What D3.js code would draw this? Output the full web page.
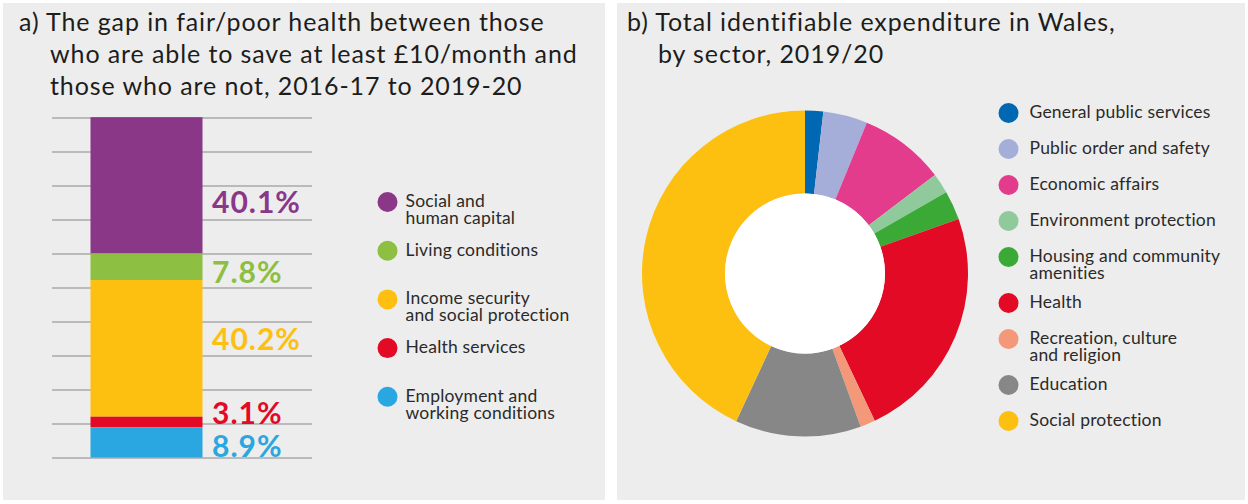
<!DOCTYPE html>
<html>
<head>
<meta charset="utf-8">
<script src="https://cdn.jsdelivr.net/npm/d3@7"></script>
<style>
  body { margin: 0; background: #fff; }
  svg { display: block; font-family: Lato, 'Open Sans', sans-serif; }
</style>
</head>
<body>
<svg id="chart" width="1248" height="504"></svg>
<script>
// a) stacked bar, top segment first
let barCategories = ['Social and human capital', 'Living conditions', 'Income security and social protection', 'Health services', 'Employment and working conditions']
let barLegend = [['Social and', 'human capital'], ['Living conditions'], ['Income security', 'and social protection'], ['Health services'], ['Employment and', 'working conditions']]
let barValues = [40.1, 7.8, 40.2, 3.1, 8.9]
let barColors = ['#8a3788', '#8dbf42', '#fdc010', '#e20a25', '#2aa7e0']
let gridTicks = [0, 10, 20, 30, 40, 50, 60, 70, 80, 90, 100]

// b) donut, clockwise from 12 o'clock
let sectors = ['General public services', 'Public order and safety', 'Economic affairs', 'Environment protection', 'Housing and community amenities', 'Health', 'Recreation, culture and religion', 'Education', 'Social protection']
let sectorLegend = [['General public services'], ['Public order and safety'], ['Economic affairs'], ['Environment protection'], ['Housing and community', 'amenities'], ['Health'], ['Recreation, culture', 'and religion'], ['Education'], ['Social protection']]
let sectorValues = [1.8, 4.4, 8.5, 2.0, 2.9, 23.4, 1.5, 12.5, 43.1]
let sectorColors = ['#0067b2', '#a5aed9', '#e33c8d', '#90ca9c', '#3aa935', '#e20a25', '#f39879', '#878787', '#fdc010']

let svg = d3.select('#chart')

// panels
svg.append('rect').attr('x', 3).attr('y', 3).attr('width', 602).attr('height', 497).attr('fill', '#ededed')
svg.append('rect').attr('x', 617).attr('y', 3).attr('width', 628).attr('height', 497).attr('fill', '#ededed')

function title (x, indent, lines) {
  let t = svg.append('text').attr('font-size', 25).attr('letter-spacing', 0.9).attr('fill', '#1d1d1b')
  lines.forEach(function (l, i) {
    t.append('tspan').attr('x', i === 0 ? x : x + indent).attr('y', 31 + i * 32).text(l)
  })
}
title(19, 31, ['a) The gap in fair/poor health between those', 'who are able to save at least £10/month and', 'those who are not, 2016-17 to 2019-20'])
title(627, 31, ['b) Total identifiable expenditure in Wales,', 'by sector, 2019/20'])

function legend (x, y0, step, extra, gap, items, colors) {
  let y = y0
  items.forEach(function (lines, i) {
    let g = svg.append('g').attr('transform', 'translate(' + x + ',' + y + ')')
    g.append('circle').attr('r', 10).attr('fill', colors[i])
    let t = g.append('text').attr('font-size', 17.5).attr('letter-spacing', 0.2).attr('fill', '#2b2a29')
    lines.forEach(function (l, j) {
      t.append('tspan').attr('x', gap).attr('y', 5 + j * 17).text(l)
    })
    y += step + (lines.length > 1 ? extra : 0)
  })
}

// ---- a) stacked bar
let y = d3.scaleLinear().domain([0, 100]).range([457.5, 117.5])

svg.append('g')
  .attr('transform', 'translate(312,0)')
  .call(d3.axisLeft(y).tickValues(gridTicks).tickSize(260).tickFormat(''))
  .call(function (g) { g.select('.domain').remove() })
  .selectAll('line').attr('stroke', '#a8a8a8').attr('stroke-width', 1.5)

let stacked = []
let acc = 0
for (let i = barValues.length - 1; i >= 0; i--) {
  stacked[i] = { key: barCategories[i], y0: acc, y1: acc + barValues[i], value: barValues[i], color: barColors[i] }
  acc += barValues[i]
}

svg.selectAll('.seg')
  .data(stacked)
  .enter().append('rect')
  .attr('class', 'seg')
  .attr('x', 90.5)
  .attr('width', 112)
  .attr('y', function (d) { return y(d.y1) })
  .attr('height', function (d) { return y(d.y0) - y(d.y1) })
  .attr('fill', function (d) { return d.color })

// small shifts so the labels sit where the original puts them
let labelShift = [17, 5, -9, -9, 4]
svg.selectAll('.val')
  .data(stacked)
  .enter().append('text')
  .attr('class', 'val')
  .attr('x', 212)
  .attr('y', function (d, i) { return y((d.y0 + d.y1) / 2) + labelShift[i] })
  .attr('dy', '0.36em')
  .attr('font-size', 30)
  .attr('letter-spacing', 1)
  .attr('font-weight', 'bold')
  .attr('fill', function (d) { return d.color })
  .text(function (d) { return d.value.toFixed(1) + '%' })

legend(387.5, 202, 48.7, 0, 18, barLegend, barColors)

// ---- b) donut
let pie = d3.pie().sort(null).value(function (d) { return d })
let arc = d3.arc().innerRadius(80).outerRadius(163)
let g2 = svg.append('g').attr('transform', 'translate(805,273.5)')

g2.selectAll('path')
  .data(pie(sectorValues))
  .enter().append('path')
  .attr('d', arc)
  .attr('fill', function (d, i) { return sectorColors[i] })
g2.append('circle').attr('r', 80).attr('fill', '#fff')

legend(1008.5, 113, 36, 10, 21, sectorLegend, sectorColors)
</script>
</body>
</html>
